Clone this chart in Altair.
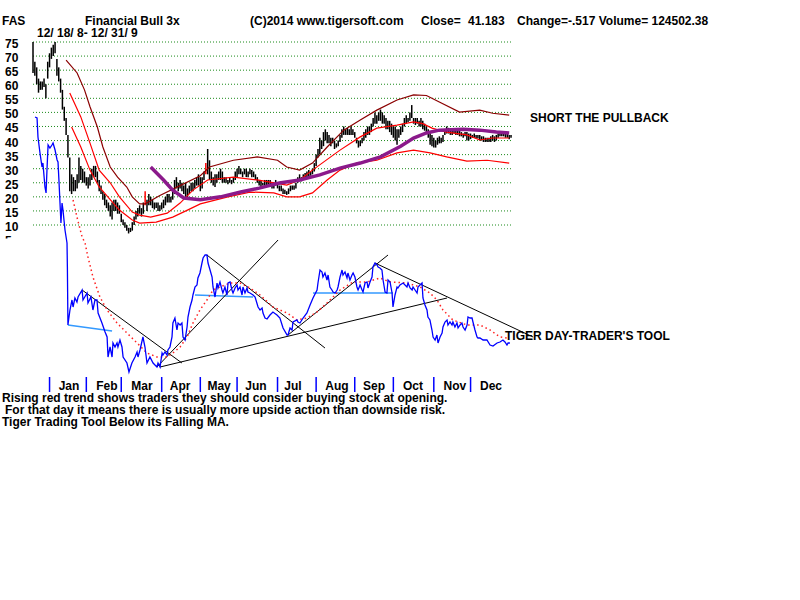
import altair as alt
import pandas as pd

FONT = "Liberation Sans"

# ---------------- data (trading-day index 0 = 12/18/2008) ----------------
high = [75,68,66,62,61,61,62,60,68,71,
        73,74,75,69,66,62,58,52,48,42,
        34,28,27,26,28,34,31,30,29,27,
        27,28,30,31,31,29,26,24,22,21,
        19,18,17,18,19,19,18,17,14,12,
        11,10,9,9,11,13,15,16,17,16,
        18,22,19,21,20,19,18,18,18,17,
        18,19,20,21,21,20,22,26,27,25,
        26,25,24,25,23,24,25,25,26,27,
        28,27,27,29,32,37,33,29,27,28,
        28,29,30,29,27,27,26,27,26,27,
        29,30,31,30,29,30,30,29,30,29.5,
        29,28,27,26,26,25,26,26,26,26,
        25,25,26,25,24,24,23,22.5,22,23,
        24,24,24,25,27,28,27,28,28.5,29,
        29.5,29,30,32,35,37,41,40,43,44,
        43,42,41,41,40,39,40,42,44,45,
        44,44.5,44,45,44,43,41,40,40,41,
        43,44,45,45,46,48,50,49,50,51,
        50,49,48,47,47,46,45,45,44,44,
        45,46,48,49,48,50,52.6,48,48,48,
        47,48,47,46,45,44,43,42,41,40,
        41,41.5,41,42,44,45,44.5,44,44,44,
        43.5,44,43.5,43,42.5,43,43,42.5,42.5,42,
        42.5,42,42,42,41.5,41.5,41,41,41,41.5,
        42,41.5,42,42.5,43,43.4,43,43,42.5,42,
        42]
low = [64,63,60,57,58,58,59,55,62,66,
       69,70,71,63,61,57,51,47,42,34,
       22,21,22,22,23,25,26,25,25,24,
       23,24,26,27,27,25,22,21,19,17,
       16,15,13,12,15,15,14,14,11,10,
       9,8,7,7.5,8,10,12,13,14,13,
       14,17,15,17,17,16,15.5,16,15,15,
       15.5,16,17,18,18,18,19,21,23,22,
       23,22,21,20,19,21,22,22,23,24,
       24,22,23,26,28,28,26,25,24,23.5,
       25,26,26,25,25,25,24.5,25,24.5,25,
       26,27,28,28,27,28,27,27,28,27,
       27,26,25,24,23.5,24,24,24,24,24,
       23,23,24,23,22,22,21,21,20.7,21,
       22,22.5,22.5,23,25,25.5,25.5,26,26,27,
       27,27.5,28,29,31,34,35,37,38,40,
       39,39,38,39,37,37.5,38,39.5,41,42,
       42,42,42,42,42,41,39,37.5,38,39,
       40,41,42,42,43,45,46,46,47,47,
       46,46,44,44,43,42,41,40,38.5,41,
       42,43,45,46,46.5,47,48,46,45.5,46,
       45,45,44,43.5,42.5,41,38.5,38,37.5,37.5,
       38.5,39,39,39.5,42,42.5,42.5,42,42,42.5,
       42,42,41.5,41.5,41,41.5,40,40,40.5,41,
       41,40.7,40.7,40,40,39.5,39.5,39.5,39.5,39.5,
       40,39.5,40,41,41.5,41.5,41.5,41,41,40.5,
       41]
red_bar_days = [61, 94]

upper_days = [18,24,28,31,35,38,42,46,51,54,58,61,69,80,91,96,109,122,133,138,
              145,152,160,169,178,187,198,207,214,221,232,243,250,259]
upper_vals = [68.6,64,58,52,44.8,37.7,30.6,27,23.5,20,17.5,17.5,20.5,24,27.5,30.6,33,34.2,33,30.6,
              29.5,32,37.7,43.7,47.3,50.8,54.4,56.2,56,53.7,50.1,50.8,49.7,49]
mid_days = [20,26,31,36,42,47,54,58,64,73,80,87,95,109,122,138,145,152,167,178,
            187,198,207,212,217,225,236,243,250,259]
mid_vals = [56.9,48.4,39.1,29.5,25,20,14.6,13.5,12.8,14.2,17.8,22.4,26,27,26,24.2,26,29.5,36.6,41.3,
            44.4,45.5,46.6,46,44.4,43,42,40.2,40.9,40.9]
lower_days = [21,26,31,36,42,47,54,58,67,76,84,91,106,118,131,138,145,152,160,167,
              176,187,198,207,216,225,236,247,259]
lower_vals = [44.8,37.7,29.5,23.5,19,15.3,11.8,10.7,11,12.8,15.3,17.5,20,21.7,21.4,20,20,21.4,26,29.5,
              32,33,35.6,36.6,35.6,34.2,32.7,33,32]
ma_days = [64,71,76,82,91,102,113,123,134,145,156,167,178,189,200,207,214,221,234,243,252,259]
ma_vals = [30.6,26,22.4,19.6,19,20,21.7,23.1,24.9,26,27.8,30.2,32,34.2,38,40.9,42.7,43.7,44,43.7,43,42.7]

# Tiger day-trader's tool (own scale)
tool_days = [1.1,2.2,2.7,3.8,4.9,5.4,6.5,7.1,7.6,8.2,
             9.2,10.3,10.9,12.0,13.1,13.6,14.1,15.2,15.8,16.3,
             17.4,18.5,18.7,19.0,20.1,21.2,21.8,22.8,23.9,24.5,
             26.7,27.2,29.4,29.9,31.5,32.6,33.7,34.8,35.4,37.5,
             39.2,40.3,40.8,41.9,43.0,43.5,44.6,45.7,46.2,47.3,
             48.4,49.0,51.1,52.2,53.8,55.5,56.6,57.1,58.2,59.8,
             60.9,62.0,63.6,65.3,67.4,68.0,69.1,70.2,70.7,71.8,
             72.9,73.4,74.5,75.6,76.1,77.2,78.3,78.9,80.0,81.0,
             81.6,82.7,83.8,84.3,85.4,86.5,87.0,88.1,89.2,89.7,
             90.8,91.9,92.5,93.6,94.6,95.2,96.3,97.4,97.9,99.0,
             100.1,100.6,101.7,102.8,103.3,104.4,105.5,106.1,107.2,108.2,
             108.8,109.9,111.0,111.5,112.6,113.7,114.2,115.3,116.4,116.9,
             118.0,119.7,120.8,122.4,123.5,124.6,125.1,126.2,127.3,128.9,
             130.5,132.7,134.3,136.0,138.2,138.7,139.8,140.9,141.4,143.6,
             144.1,145.2,146.9,149.0,150.7,152.3,154.5,155.0,156.1,157.2,
             157.7,158.8,159.9,160.5,161.5,162.6,163.2,164.3,165.4,165.9,
             167.0,168.1,168.6,169.7,170.8,171.3,172.4,173.5,174.1,175.1,
             176.2,176.8,177.9,179.0,179.5,180.6,181.7,182.2,183.3,184.4,
             184.9,186.0,187.1,187.7,188.7,189.8,190.4,191.5,192.5,193.1,
             194.2,195.3,195.8,196.9,198.0,198.5,199.6,201.3,203.4,204.0,
             205.1,206.2,206.7,207.8,208.9,209.4,210.5,211.6,212.1,213.2,
             214.3,214.8,215.9,217.0,217.6,218.7,219.7,220.3,221.4,222.5,
             223.0,224.1,225.2,225.7,226.8,227.9,228.4,229.5,230.6,231.2,
             232.3,233.3,233.9,235.0,236.1,236.6,237.7,238.8,239.3,240.4,
             241.5,242.0,243.1,244.8,246.9,248.6,250.2,252.4,254.0,255.6,
             256.7,257.8,258.4,259.4]
tool_vals = [263,262,243,227,213,217,193,187,210,235,
             232,235,237,230,220,218,200,157,177,170,
             150,137,113,55,70,80,73,82,78,83,
             90,80,87,77,83,70,80,80,67,57,
             48,43,23,33,23,37,33,37,33,40,
             33,23,17,8,17,23,28,23,30,43,
             33,17,23,17,13,17,13,27,25,28,
             25,30,33,43,57,62,50,57,55,57,
             43,40,53,63,73,80,85,93,95,102,
             107,117,122,125,125,117,110,103,93,83,
             97,92,98,90,87,93,85,97,98,90,
             87,92,95,90,93,85,93,87,92,88,
             87,85,83,73,70,72,67,62,61,65,
             68,65,62,52,45,45,52,50,58,60,
             58,57,62,67,75,82,90,97,110,108,
             103,107,100,105,93,90,88,87,90,93,
             103,110,105,108,102,107,100,105,107,103,
             93,90,95,90,88,97,98,92,98,103,
             113,117,115,113,112,110,100,88,87,100,
             98,87,73,85,93,92,95,97,93,97,
             92,90,93,90,87,93,95,97,82,75,
             70,63,60,50,43,40,45,37,43,47,
             53,58,60,55,58,55,58,53,57,52,
             55,57,53,50,55,63,62,62,58,50,
             43,42,42,40,40,35,34,37,38,40,
             38,35,37,37]
tool_ma_days = [21.8,23.9,26.7,28.3,29.9,32.6,36.4,40.3,45.7,51.1,
                56.6,62.0,67.4,72.9,76.1,80.0,83.8,87.0,90.8,94.6,
                97.9,101.7,107.2,112.6,118.0,123.5,130.5,138.2,143.6,149.0,
                154.5,159.9,167.0,174.1,181.7,188.7,194.2,203.4,210.5,215.9,
                219.7,223.0,228.4,236.1,243.1,248.6,254.0,257.8]
tool_ma_vals = [180,163,143,137,123,103,83,70,57,47,
                37,27,23,23,27,33,43,57,70,80,
                90,93,97,97,92,85,73,67,60,62,
                68,77,90,98,98,102,98,97,93,87,
                80,70,60,55,55,50,43,42]
support_d1 = [19.0, 88.1, 152.3]
support_v1 = [55, 85, 87]
support_d2 = [43.0, 119.7, 195.8]
support_v2 = [49, 83, 87]
trend_d1 = [26.7, 67.4, 94.6, 69.1, 138.7, 186.0]
trend_v1 = [90, 13, 125, 13, 45, 117]
trend_d2 = [81.0, 133.3, 158.8, 225.2, 193.1, 272.0]
trend_v2 = [17, 140, 32, 82, 125, 43]

grid_levels = [75, 70, 65, 60, 55, 50, 45, 40, 35, 30, 25, 20, 15, 10]
months = ["Jan", "Feb", "Mar", "Apr", "May", "Jun", "Jul", "Aug", "Sep", "Oct", "Nov", "Dec"]
month_start_days = [9, 29, 48, 70, 91, 111, 133, 154, 175, 196, 218, 238]
month_label_days = [19.6, 40.2, 59.3, 80, 101.2, 121.3, 141.4, 165.3, 185.5, 206.7, 229.5, 249.1]

# ---------------- scales ----------------
xs = alt.Scale(domain=[-17.95, 417.18], nice=False, zero=False)
ys = alt.Scale(domain=[-123.19, 89.92], nice=False, zero=False)
ins = alt.Scale(domain=[-220, 380], nice=False, zero=False)


def X(f):
    return alt.X(f, scale=xs, axis=None)


def YP(f):
    return alt.Y(f, scale=ys, axis=None)


def YI(f):
    return alt.Y(f, scale=ins, axis=None)


one = pd.DataFrame({"k": [0]})


def label(txt, x, y, size=12, align="left", weight="bold", color="black"):
    return alt.Chart(one).mark_text(
        text=txt, align=align, baseline="alphabetic", fontSize=size,
        fontWeight=weight, font=FONT, color=color
    ).encode(x=alt.value(x), y=alt.value(y))


layers = []

# gridlines
grid_df = pd.DataFrame({"v": grid_levels})
layers.append(alt.Chart(grid_df).mark_rule(color="#1a8a1a", strokeDash=[1, 2], strokeWidth=1).encode(
    y=YP("v:Q"), x=alt.value(33), x2=alt.value(511)))
# y labels
lab_df = pd.DataFrame({"v": grid_levels + [5], "t": [str(v) for v in grid_levels] + ["5"]})
layers.append(alt.Chart(lab_df).mark_text(align="left", baseline="middle", dy=2, fontSize=12,
                                          fontWeight="bold", font=FONT, color="black").encode(
    y=YP("v:Q"), x=alt.value(5), text="t:N"))
layers.append(alt.Chart(one).mark_rect(color="white").encode(
    x=alt.value(0), x2=alt.value(30), y=alt.value(238.5), y2=alt.value(255)))

# price bars
bars = pd.DataFrame({"d": list(range(len(high))), "hi": high, "lo": low})
bars["c"] = ["#ff0000" if d in red_bar_days else "#000000" for d in bars["d"]]
layers.append(alt.Chart(bars).mark_rule(strokeWidth=1.5).encode(
    x=X("d:Q"), y=YP("lo:Q"), y2="hi:Q", color=alt.Color("c:N", scale=None)))

# bands
for dd, vv, col in [(upper_days, upper_vals, "#8b0000"), (mid_days, mid_vals, "#ff0000"),
                    (lower_days, lower_vals, "#ff0000")]:
    df = pd.DataFrame({"d": dd, "v": vv})
    layers.append(alt.Chart(df).mark_line(color=col, strokeWidth=1.2).encode(x=X("d:Q"), y=YP("v:Q")))
ma_df = pd.DataFrame({"d": ma_days, "v": ma_vals})
layers.append(alt.Chart(ma_df).mark_line(color="#8b1a8b", strokeWidth=3.5).encode(x=X("d:Q"), y=YP("v:Q")))

# indicator panel
sup = pd.DataFrame({"d1": support_d1, "v1": support_v1, "d2": support_d2, "v2": support_v2})
layers.append(alt.Chart(sup).mark_rule(color="#3399ff", strokeWidth=1.5).encode(
    x=X("d1:Q"), y=YI("v1:Q"), x2="d2:Q", y2="v2:Q"))
tr = pd.DataFrame({"d1": trend_d1, "v1": trend_v1, "d2": trend_d2, "v2": trend_v2})
layers.append(alt.Chart(tr).mark_rule(color="black", strokeWidth=1).encode(
    x=X("d1:Q"), y=YI("v1:Q"), x2="d2:Q", y2="v2:Q"))
tma = pd.DataFrame({"d": tool_ma_days, "v": tool_ma_vals})
layers.append(alt.Chart(tma).mark_line(color="#ff2020", strokeWidth=1.5, strokeDash=[1.5, 3]).encode(
    x=X("d:Q"), y=YI("v:Q")))
tool = pd.DataFrame({"d": tool_days, "v": tool_vals, "i": list(range(len(tool_days)))})
layers.append(alt.Chart(tool).mark_line(color="#0000ff", strokeWidth=1.3).encode(
    x=X("d:Q"), y=YI("v:Q"), order="i:Q"))

# month axis
mt = pd.DataFrame({"d": month_start_days})
layers.append(alt.Chart(mt).mark_rule(color="#0000ff", strokeWidth=1.5).encode(
    x=X("d:Q"), y=alt.value(377), y2=alt.value(392)))
ml = pd.DataFrame({"d": month_label_days, "m": months})
layers.append(alt.Chart(ml).mark_text(align="center", baseline="alphabetic", fontSize=12,
                                      fontWeight="bold", font=FONT, color="black").encode(
    x=X("d:Q"), y=alt.value(389.5), text="m:N"))

# texts
layers += [
    label("FAS", 2, 25),
    label("Financial Bull 3x", 85, 25),
    label("(C)2014 www.tigersoft.com", 250, 25),
    label("Close=", 421, 25),
    label("41.183", 468, 25),
    label("Change=-.517 Volume= 124502.38", 517, 25),
    label("12/ 18/ 8- 12/ 31/ 9", 37, 37),
    label("SHORT THE PULLBACK", 530, 121.5),
    label("TIGER DAY-TRADER'S TOOL", 505, 340),
    label("Rising red trend shows traders they should consider buying stock at opening.", 2, 402),
    label("For that day it means there is usually more upside action than downside risk.", 5, 414),
    label("Tiger Trading Tool Below its Falling MA.", 2, 426),
]

chart = alt.layer(*layers).resolve_scale(y="independent").properties(
    width=800, height=600, padding=0, autosize="none", background="white"
).configure_view(stroke=None)

chart.save("out.html", embed_options={"renderer": "svg", "actions": False})
